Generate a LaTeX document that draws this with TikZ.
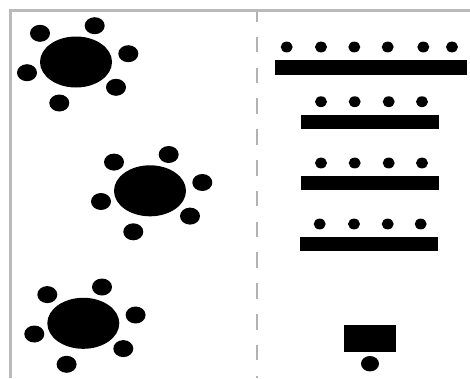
\documentclass[tikz,border=0pt]{standalone}
\usepackage{tikz}

\tikzset{
  tablestyle/.style={fill=black},
  seatstyle/.style={fill=black},
  framestyle/.style={draw=black!27, line width=2.4},
  aislestyle/.style={draw=black!30, line width=2.2, dash pattern=on 15.5 off 15.3, dash phase=6}
}

\begin{document}
\begin{tikzpicture}[x=1pt, y=-1pt]
  \useasboundingbox (0,0) rectangle (470,378);

  \draw[framestyle] (10.5,378) -- (10.5,10.5) -- (470,10.5);
  \draw[aislestyle] (257.3,12) -- (257.3,378);

  \foreach \cx/\cy in {76/62, 150/190.8, 83.3/323.3}
  {
    \fill[tablestyle] (\cx, \cy) ellipse (36 and 25.5);
    \foreach \dx/\dy in {-36/-28.7, 18.7/-36.3, 52.3/-8.3, 40/25.3, -16.7/41, -49/10.7}
    {
      \fill[seatstyle] (\cx+\dx, \cy+\dy) ellipse (10 and 8.5);
    }
  }

  \fill[tablestyle] (275,60) rectangle (466.7,74.7);
  \fill[tablestyle] (300.7,115.3) rectangle (438.7,129.3);
  \fill[tablestyle] (300.7,176) rectangle (438.7,190.3);
  \fill[tablestyle] (299.7,237.3) rectangle (438,251.3);

  \foreach \x in {286.7,321,354.3,387.7,423.3,452}
  {
    \fill[seatstyle] (\x, 47) ellipse (6 and 5.4);
  }

  \foreach \y in {101.7,163}
  {
    \foreach \x in {321,354.7,388.7,422}
    {
      \fill[seatstyle] (\x, \y) ellipse (6 and 5.4);
    }
  }

  \foreach \x in {319.7,354,387.7,420.7}
  {
    \fill[seatstyle] (\x, 224) ellipse (6 and 5.4);
  }

  \fill[tablestyle] (344.3,325) rectangle (395.7,351.7);
  \fill[seatstyle] (370, 363.7) ellipse (9 and 7.7);
\end{tikzpicture}
\end{document}
